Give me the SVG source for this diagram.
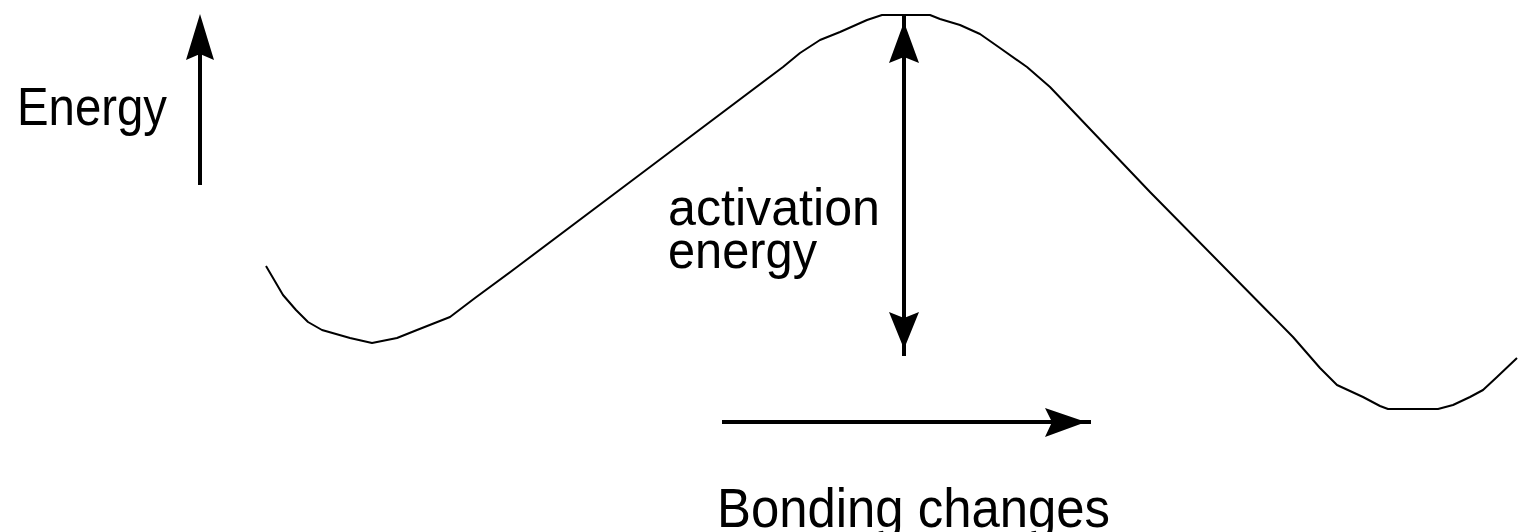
<svg xmlns="http://www.w3.org/2000/svg" width="1519" height="532" viewBox="0 0 1519 532">
<style>
.lbl{font-family:"Liberation Sans",Arial,sans-serif;fill:#000}
.ln{stroke:#000;stroke-width:4;fill:none}
.hd{fill:#000;stroke:none}
.curve{stroke:#000;stroke-width:2;fill:none;stroke-linejoin:round}
</style>
<rect width="1519" height="532" fill="#fff"/>
<g id="energy-curve">
<polyline class="curve" points="266,266 283,295 296,310 308,322 322,330 350,338 372,343 397,338 417,330 450,317 475,298 517,267 650,167 783,67 800,53 820,40 840,32 867,20 882,15 930,15 940,19 960,25 980,34 1000,48 1027,67 1050,87 1150,192 1293,337 1320,368 1330,378 1337,385 1363,397 1380,406 1388,409 1438,409 1453,405 1470,397 1483,390 1497,377 1517,358"/>
</g>
<g id="label-energy">
<text class="lbl" x="17" y="125" font-size="53" textLength="150" lengthAdjust="spacingAndGlyphs">Energy</text>
</g>
<g id="label-activation">
<text class="lbl" x="668" y="225" font-size="52" textLength="212" lengthAdjust="spacingAndGlyphs">activation</text>
<text class="lbl" x="668" y="268" font-size="52" textLength="149" lengthAdjust="spacingAndGlyphs">energy</text>
</g>
<g id="label-bonding">
<text class="lbl" x="717" y="527" font-size="55" textLength="393" lengthAdjust="spacingAndGlyphs">Bonding changes</text>
</g>
<g id="connectors">
<line class="ln" x1="200" y1="50" x2="200" y2="185"/>
<polygon class="hd" points="200,14 214,60 200,54 186,60"/>
<line class="ln" x1="904" y1="15" x2="904" y2="356"/>
<polygon class="hd" points="904,22 919,63 904,57 889,63"/>
<polygon class="hd" points="889,312 904,318 919,312 904,349"/>
<line class="ln" x1="722" y1="422" x2="1091" y2="422"/>
<polygon class="hd" points="1045,408 1086,422 1045,437 1052,422"/>
</g>
</svg>
